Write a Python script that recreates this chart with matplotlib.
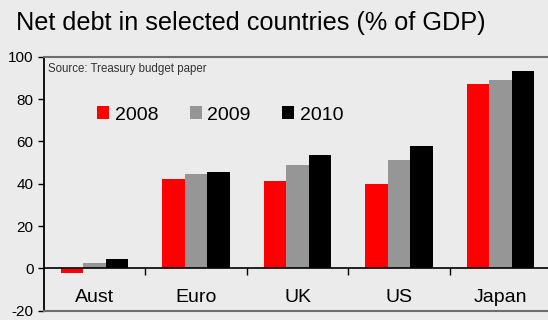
import matplotlib
matplotlib.use('Agg')
import matplotlib.pyplot as plt
from matplotlib.patches import Patch
from matplotlib.ticker import FixedLocator

plt.rcParams['font.family'] = ['Liberation Sans', 'DejaVu Sans']
plt.rcParams['axes.unicode_minus'] = False

countries = ['Aust', 'Euro', 'UK', 'US', 'Japan']
years = ['2008', '2009', '2010']
debt_2008 = [-2.4, 42.3, 41.2, 40.0, 86.9]
debt_2009 = [2.4, 44.5, 48.8, 51.2, 88.8]
debt_2010 = [4.4, 45.6, 53.4, 57.8, 93.3]
colors = ['#ff0000', '#969696', '#000000']

bg = '#ebebeb'
fig = plt.figure(figsize=(5.48, 3.2), dpi=100, facecolor=bg)
ax = fig.add_axes([44 / 548, 9.3 / 320, 507 / 548, 254 / 320])
ax.set_facecolor(bg)

width = 0.222
x = range(len(countries))
for k, vals in enumerate([debt_2008, debt_2009, debt_2010]):
    ax.bar([i + (k - 1) * width for i in x], vals, width=width,
           color=colors[k], linewidth=0, zorder=2)

ax.set_xlim(-0.5, 4.5)
ax.set_ylim(-20, 100)
ax.set_yticks(range(-20, 101, 20))
ax.tick_params(axis='y', length=4.5, width=1, pad=3, labelsize=11,
               colors='black')

# x axis sits on the zero line, with ticks between the groups
ax.spines['bottom'].set_position(('data', 0))
ax.spines['bottom'].set_linewidth(1.2)
ax.spines['bottom'].set_zorder(3)
ax.set_xticks(list(x))
ax.set_xticklabels(countries)
ax.xaxis.set_minor_locator(FixedLocator([0.5, 1.5, 2.5, 3.5]))
ax.tick_params(axis='x', which='major', length=0, pad=15, labelsize=14)
ax.tick_params(axis='x', which='minor', length=5, width=1, direction='out')

ax.spines['left'].set_linewidth(1.3)
ax.spines['right'].set_visible(False)
ax.spines['top'].set_color('#6e6e6e')
ax.spines['top'].set_linewidth(1.5)
ax.axhline(-20, color='#6e6e6e', lw=1.5, clip_on=False, zorder=3)

fig.text(15.7 / 548, 1 - 30 / 320, 'Net debt in selected countries (% of GDP)',
         fontsize=18.2, va='baseline', ha='left')
fig.text(48.3 / 548, 1 - 71.7 / 320, 'Source: Treasury budget paper',
         fontsize=8.3, va='baseline', ha='left', color='#333333')

handles = [Patch(facecolor=c, edgecolor='none', label=y)
           for c, y in zip(colors, years)]
fig.legend(handles=handles, loc='center left', ncol=3, frameon=False,
           bbox_to_anchor=(97 / 548, 1 - 115 / 320), fontsize=14,
           handlelength=0.62, handleheight=0.62, handletextpad=0.3,
           columnspacing=1.6, borderpad=0, borderaxespad=0)

fig.savefig('out.png', dpi=100, facecolor=bg)
